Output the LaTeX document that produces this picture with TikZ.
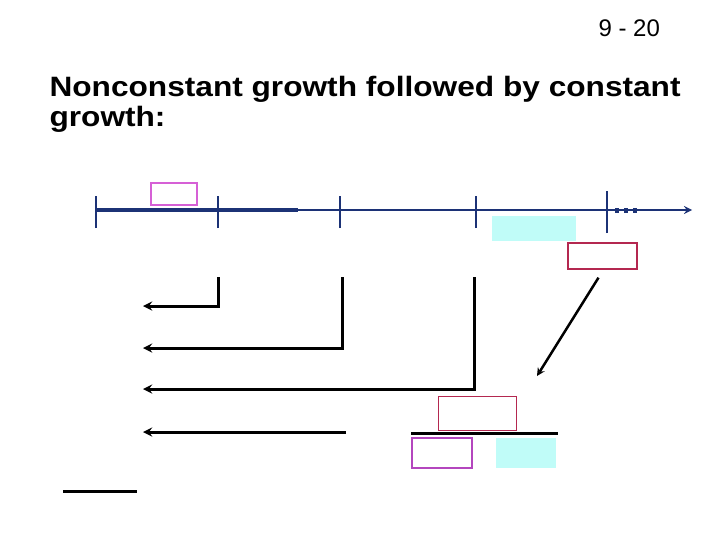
\documentclass[tikz,border=0pt]{standalone}
\usepackage{fontspec}
\setmainfont{Liberation Sans}
\newfontfamily\titlefont{Liberation Sans}[FakeStretch=1.13]
\usetikzlibrary{positioning}
\definecolor{lineblue}{RGB}{28,50,118}
\definecolor{boxpink}{RGB}{214,96,214}
\definecolor{boxred}{RGB}{180,40,80}
\definecolor{boxmag}{RGB}{180,70,190}
\definecolor{boxcyan}{RGB}{192,252,248}
\tikzset{%
  every tick/.style={
    shape=rectangle,
    minimum width=2pt,
    inner sep=0pt
  },
  pv box/.style={
    shape=rectangle,
    inner sep=0pt,
    line width=1.3pt
  },
  cf line/.style={
    line width=3pt,
    black
  },
}

\begin{document}
\begin{tikzpicture}[> = stealth, x=1pt, y=-1pt]
\useasboundingbox (0,0) rectangle (720,540);
% heading
\node[anchor=base west, font=\fontsize{24}{24}\selectfont] (slideno) at (595,37) {9 - 20};
\node[anchor=base west, font=\titlefont\fontsize{28}{28}\selectfont\bfseries] (title) at (46,97) {Nonconstant growth followed by constant};
\node[anchor=base west, font=\titlefont\fontsize{28}{28}\selectfont\bfseries] (title2) at (46,127) {growth:};
% time line
\coordinate (tend) at (692,210);
\draw[lineblue, line width=2.5pt, ->] (96,210) -- (tend);
\draw[lineblue, line width=4.4pt] (96,210) -- (298,210);
\foreach \name/\x/\h in {t0/96/32, t1/218/32, t2/340/32, t3/476/32, t4/607/42}
    {\node[every tick, minimum height = \h pt] (\name) at (\x,212){};
    \draw[lineblue, line width=2.6pt] (\name.south) -- (\name.north);}
\foreach \x in {617,626,635}
    \fill[lineblue] (\x-2.2,208.5) rectangle (\x+2.2,213);
% boxes
\node[pv box, draw=boxpink, minimum width=46pt, minimum height=22pt] (divone) at (174,194){};
\node[pv box, fill=boxcyan, minimum width=84pt, minimum height=25pt] (divn) at (534,228.5){};
\node[pv box, draw=boxred, minimum width=69pt, minimum height=26pt] (horizon) at (602.5,256){};
\node[pv box, draw=boxred, minimum width=78pt, minimum height=34pt] (tvnum) at (477.5,413.5){};
\node[pv box, draw=boxmag, minimum width=60pt, minimum height=30pt] (rate) at (442,453){};
\node[pv box, fill=boxcyan, minimum width=60pt, minimum height=30pt] (growth) at (526,453){};
% discounting back
\coordinate (top) at (0,277);
\foreach \name/\y in {a1/306, a2/348, a3/389, a4/432}
    \coordinate (\name) at (143,\y);
\draw[cf line, ->] (t1 |- top) |- (a1);
\draw[cf line, ->] (342,277) |- (a2);
\draw[cf line, ->] (474,277) |- (a3);
\draw[cf line, ->] (346,432) -- (a4);
\coordinate (tvend) at (537,376);
\draw[cf line, line width=2.5pt, ->] ([xshift=-4pt,yshift=-8pt]horizon.south) -- (tvend);
\draw[cf line] ([yshift=4pt]rate.north west) -- ([yshift=4pt,xshift=1pt]growth.north east);
\coordinate (sumL) at (63,491);
\coordinate (sumR) at (137,491);
\draw[cf line] (sumL) -- (sumR);
\end{tikzpicture}
\end{document}
